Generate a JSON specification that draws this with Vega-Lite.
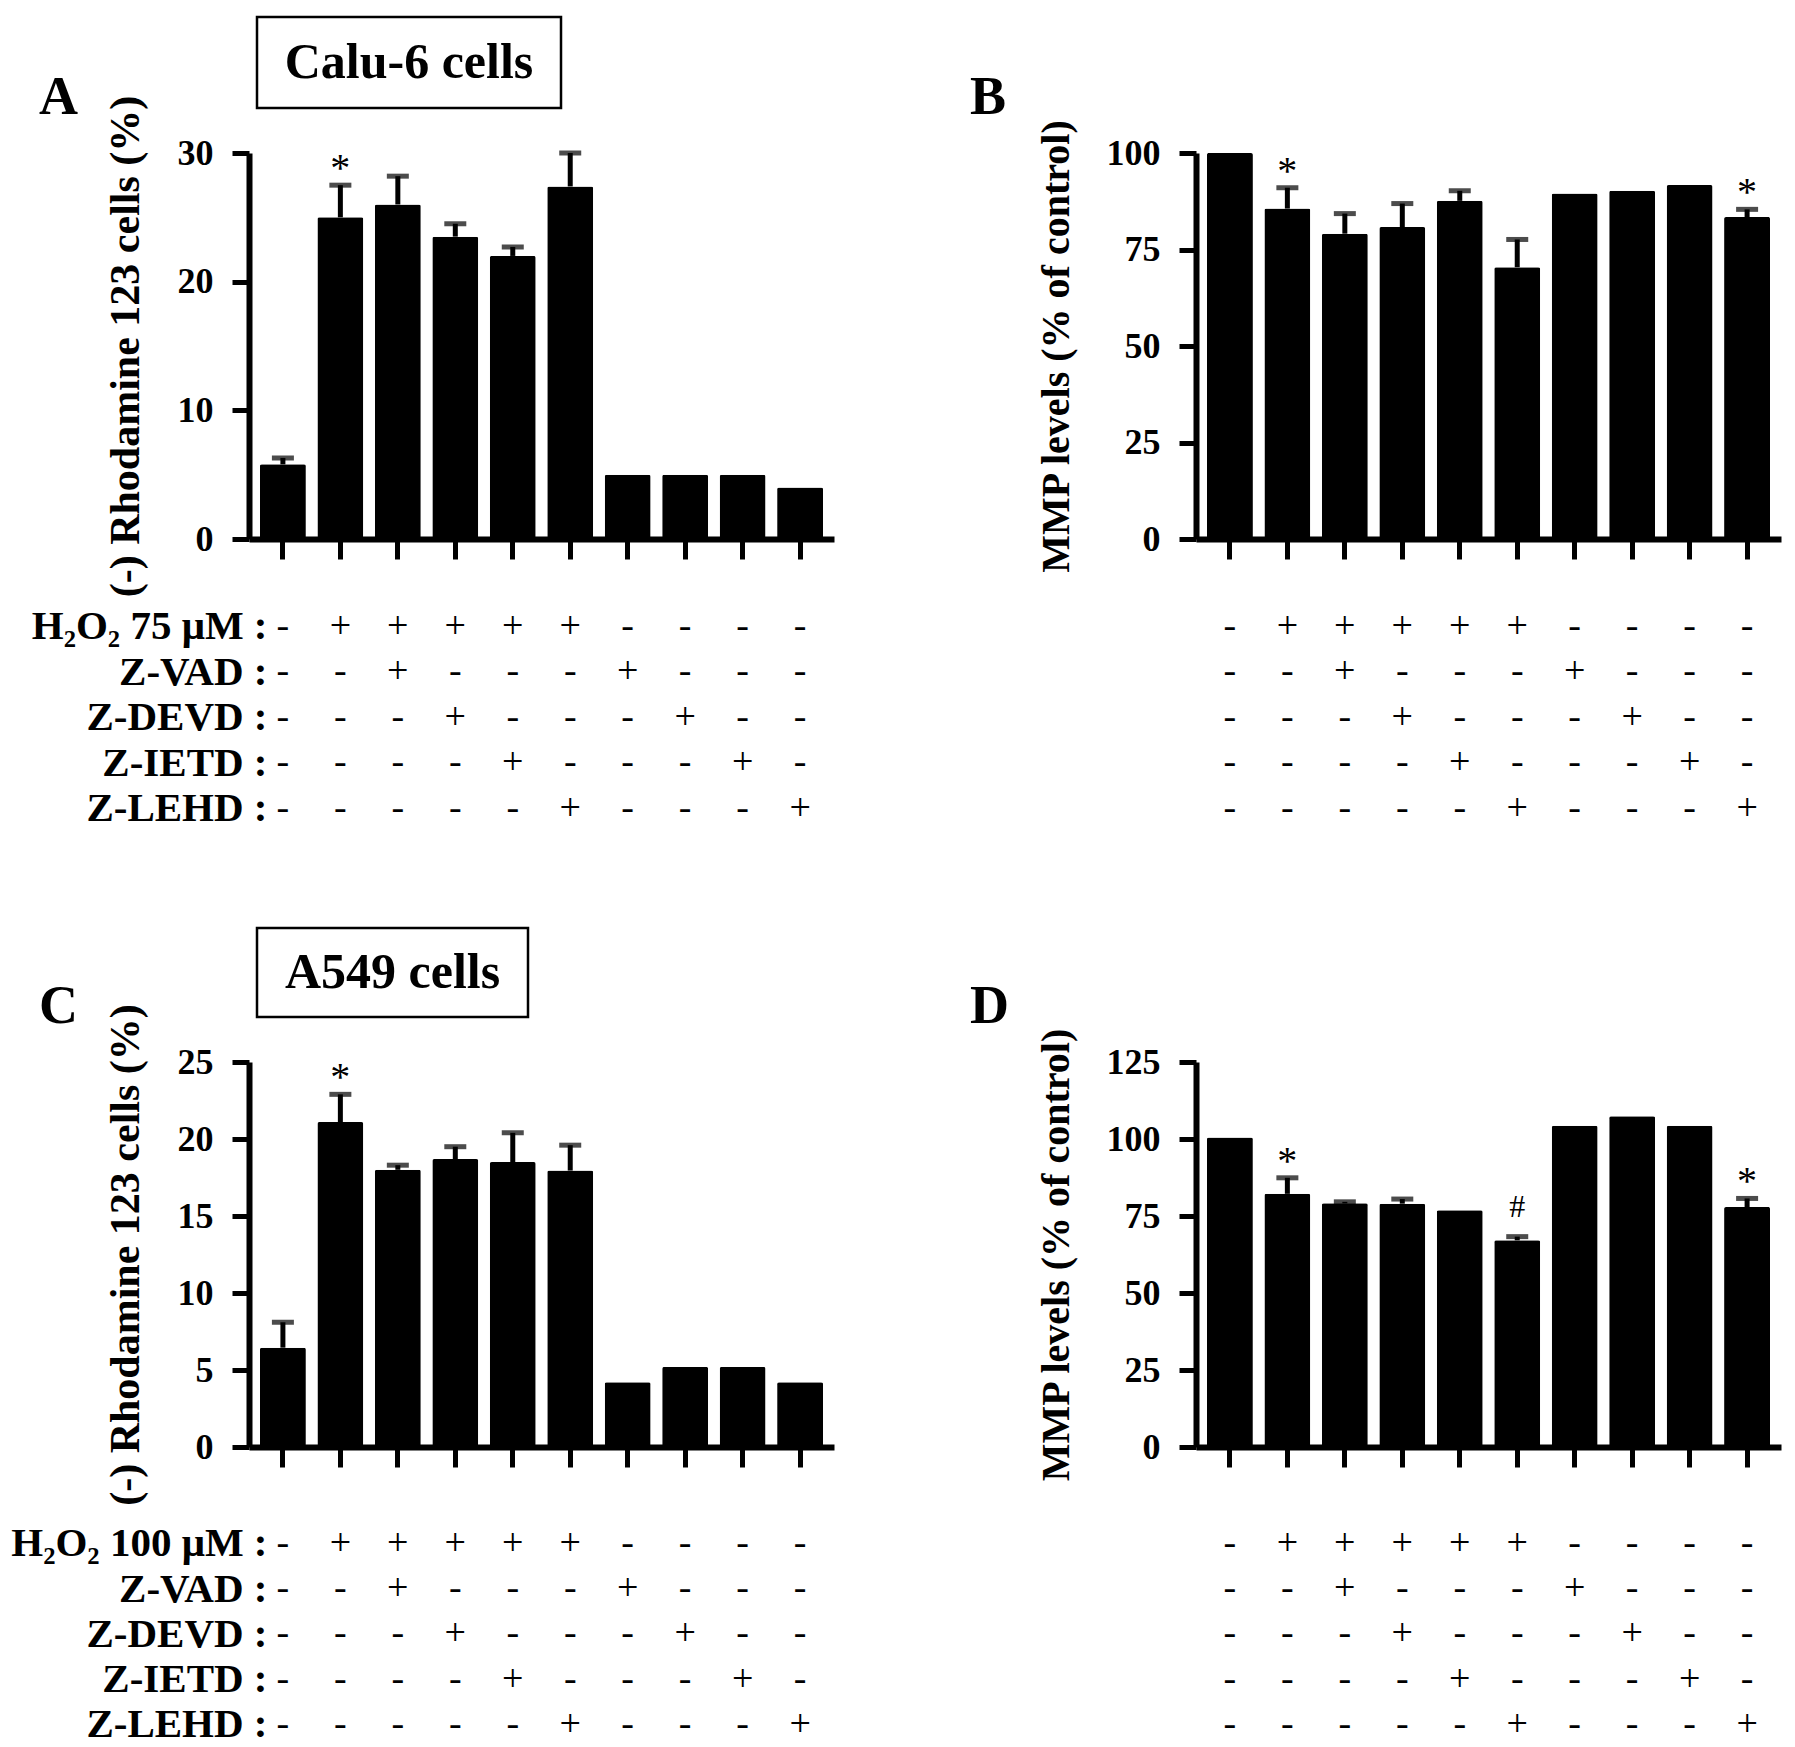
{
  "$schema": "https://vega.github.io/schema/vega-lite/v6.json",
  "background": "white",
  "padding": {"left": 10, "top": 15, "right": 5, "bottom": 5},
  "config": {
    "font": "Liberation Serif",
    "view": {"stroke": null},
    "axis": {"domainColor": "black", "domainWidth": 6, "tickColor": "black", "tickWidth": 5, "labelColor": "black", "titleColor": "black", "labelFontSize": 36, "labelFontWeight": "bold", "titleFontSize": 40, "titleFontWeight": "bold", "grid": false, "labelFlush": false},
    "axisY": {"tickSize": 17, "labelPadding": 19, "titlePadding": 30},
    "axisX": {"tickSize": 20, "labels": false, "title": null, "bandPosition": 0.5},
    "title": {"fontSize": 54, "fontWeight": "bold", "color": "black", "anchor": "start", "frame": "group", "orient": "bottom", "baseline": "alphabetic", "offset": -37}
  },
  "datasets": {
    "A": [
      {"g": 1, "m": 5.8, "hi": 6.3, "sig": null, "h": "-", "vad": "-", "devd": "-", "ietd": "-", "lehd": "-"},
      {"g": 2, "m": 25.0, "hi": 27.5, "sig": "*", "h": "+", "vad": "-", "devd": "-", "ietd": "-", "lehd": "-"},
      {"g": 3, "m": 26.0, "hi": 28.2, "sig": null, "h": "+", "vad": "+", "devd": "-", "ietd": "-", "lehd": "-"},
      {"g": 4, "m": 23.5, "hi": 24.5, "sig": null, "h": "+", "vad": "-", "devd": "+", "ietd": "-", "lehd": "-"},
      {"g": 5, "m": 22.0, "hi": 22.7, "sig": null, "h": "+", "vad": "-", "devd": "-", "ietd": "+", "lehd": "-"},
      {"g": 6, "m": 27.4, "hi": 30.0, "sig": null, "h": "+", "vad": "-", "devd": "-", "ietd": "-", "lehd": "+"},
      {"g": 7, "m": 5.0, "hi": null, "sig": null, "h": "-", "vad": "+", "devd": "-", "ietd": "-", "lehd": "-"},
      {"g": 8, "m": 5.0, "hi": null, "sig": null, "h": "-", "vad": "-", "devd": "+", "ietd": "-", "lehd": "-"},
      {"g": 9, "m": 5.0, "hi": null, "sig": null, "h": "-", "vad": "-", "devd": "-", "ietd": "+", "lehd": "-"},
      {"g": 10, "m": 4.0, "hi": null, "sig": null, "h": "-", "vad": "-", "devd": "-", "ietd": "-", "lehd": "+"}
    ],
    "B": [
      {"g": 1, "m": 100, "hi": null, "sig": null, "h": "-", "vad": "-", "devd": "-", "ietd": "-", "lehd": "-"},
      {"g": 2, "m": 85.6, "hi": 91.0, "sig": "*", "h": "+", "vad": "-", "devd": "-", "ietd": "-", "lehd": "-"},
      {"g": 3, "m": 79.1, "hi": 84.3, "sig": null, "h": "+", "vad": "+", "devd": "-", "ietd": "-", "lehd": "-"},
      {"g": 4, "m": 80.8, "hi": 86.9, "sig": null, "h": "+", "vad": "-", "devd": "+", "ietd": "-", "lehd": "-"},
      {"g": 5, "m": 87.6, "hi": 90.2, "sig": null, "h": "+", "vad": "-", "devd": "-", "ietd": "+", "lehd": "-"},
      {"g": 6, "m": 70.4, "hi": 77.6, "sig": null, "h": "+", "vad": "-", "devd": "-", "ietd": "-", "lehd": "+"},
      {"g": 7, "m": 89.5, "hi": null, "sig": null, "h": "-", "vad": "+", "devd": "-", "ietd": "-", "lehd": "-"},
      {"g": 8, "m": 90.2, "hi": null, "sig": null, "h": "-", "vad": "-", "devd": "+", "ietd": "-", "lehd": "-"},
      {"g": 9, "m": 91.7, "hi": null, "sig": null, "h": "-", "vad": "-", "devd": "-", "ietd": "+", "lehd": "-"},
      {"g": 10, "m": 83.4, "hi": 85.4, "sig": "*", "h": "-", "vad": "-", "devd": "-", "ietd": "-", "lehd": "+"}
    ],
    "C": [
      {"g": 1, "m": 6.45, "hi": 8.1, "sig": null, "h": "-", "vad": "-", "devd": "-", "ietd": "-", "lehd": "-"},
      {"g": 2, "m": 21.1, "hi": 22.9, "sig": "*", "h": "+", "vad": "-", "devd": "-", "ietd": "-", "lehd": "-"},
      {"g": 3, "m": 18.0, "hi": 18.3, "sig": null, "h": "+", "vad": "+", "devd": "-", "ietd": "-", "lehd": "-"},
      {"g": 4, "m": 18.7, "hi": 19.5, "sig": null, "h": "+", "vad": "-", "devd": "+", "ietd": "-", "lehd": "-"},
      {"g": 5, "m": 18.5, "hi": 20.4, "sig": null, "h": "+", "vad": "-", "devd": "-", "ietd": "+", "lehd": "-"},
      {"g": 6, "m": 17.95, "hi": 19.6, "sig": null, "h": "+", "vad": "-", "devd": "-", "ietd": "-", "lehd": "+"},
      {"g": 7, "m": 4.2, "hi": null, "sig": null, "h": "-", "vad": "+", "devd": "-", "ietd": "-", "lehd": "-"},
      {"g": 8, "m": 5.2, "hi": null, "sig": null, "h": "-", "vad": "-", "devd": "+", "ietd": "-", "lehd": "-"},
      {"g": 9, "m": 5.2, "hi": null, "sig": null, "h": "-", "vad": "-", "devd": "-", "ietd": "+", "lehd": "-"},
      {"g": 10, "m": 4.2, "hi": null, "sig": null, "h": "-", "vad": "-", "devd": "-", "ietd": "-", "lehd": "+"}
    ],
    "D": [
      {"g": 1, "m": 100.5, "hi": null, "sig": null, "h": "-", "vad": "-", "devd": "-", "ietd": "-", "lehd": "-"},
      {"g": 2, "m": 82.2, "hi": 87.4, "sig": "*", "h": "+", "vad": "-", "devd": "-", "ietd": "-", "lehd": "-"},
      {"g": 3, "m": 79.1, "hi": 79.6, "sig": null, "h": "+", "vad": "+", "devd": "-", "ietd": "-", "lehd": "-"},
      {"g": 4, "m": 79.0, "hi": 80.5, "sig": null, "h": "+", "vad": "-", "devd": "+", "ietd": "-", "lehd": "-"},
      {"g": 5, "m": 76.9, "hi": null, "sig": null, "h": "+", "vad": "-", "devd": "-", "ietd": "+", "lehd": "-"},
      {"g": 6, "m": 67.1, "hi": 68.3, "sig": "#", "h": "+", "vad": "-", "devd": "-", "ietd": "-", "lehd": "+"},
      {"g": 7, "m": 104.3, "hi": null, "sig": null, "h": "-", "vad": "+", "devd": "-", "ietd": "-", "lehd": "-"},
      {"g": 8, "m": 107.4, "hi": null, "sig": null, "h": "-", "vad": "-", "devd": "+", "ietd": "-", "lehd": "-"},
      {"g": 9, "m": 104.3, "hi": null, "sig": null, "h": "-", "vad": "-", "devd": "-", "ietd": "+", "lehd": "-"},
      {"g": 10, "m": 77.9, "hi": 80.7, "sig": "*", "h": "-", "vad": "-", "devd": "-", "ietd": "-", "lehd": "+"}
    ],
    "boxA": [{"t": "Calu-6 cells"}],
    "boxC": [{"t": "A549 cells"}]
  },
  "columns": 2,
  "spacing": {"row": 45, "column": 362},
  "bounds": "flush",
  "align": "each",
  "concat": [
    {
      "hconcat": [
        {"data": {"values": []}, "width": 1, "height": 91, "mark": "text"},
        {
          "data": {"name": "boxA"},
          "width": 304, "height": 91,
          "view": {"stroke": "black", "strokeWidth": 2.5},
          "title": {"text": "A", "dx": -218},
          "mark": {"type": "text", "fontSize": 50, "fontWeight": "bold", "color": "black"},
          "encoding": {"text": {"field": "t"}}
        }
      ],
      "spacing": 7,
      "bounds": "flush"
    },
    {
      "data": {"values": []},
      "width": 585, "height": 91,
      "title": {"text": "B", "dx": -226},
      "mark": "text"
    },
    {
      "data": {"name": "A"},
      "width": 585, "height": 386,
      "encoding": {"x": {"field": "g", "type": "ordinal", "scale": {"type": "band", "domain": [1,2,3,4,5,6,7,8,9,10], "paddingInner": 0.2, "paddingOuter": 0.19}}},
      "layer": [
        {"mark": {"type": "bar", "color": "black", "cornerRadius": 2},
         "encoding": {"y": {"field": "m", "type": "quantitative", "scale": {"domain": [0, 30], "nice": false}, "axis": {"values": [0, 10, 20, 30], "title": "(-) Rhodamine 123 cells (%)", "titleFontSize": 42}}}},
        {"transform": [{"filter": "datum.hi != null"}], "mark": {"type": "rule", "color": "black", "strokeWidth": 5},
         "encoding": {"y": {"field": "m", "type": "quantitative", "axis": {"values": [0, 10, 20, 30], "title": "(-) Rhodamine 123 cells (%)", "titleFontSize": 42}}, "y2": {"field": "hi"}}},
        {"transform": [{"filter": "datum.hi != null"}], "mark": {"type": "tick", "color": "black", "thickness": 5, "size": 22},
         "encoding": {"y": {"field": "hi", "type": "quantitative", "axis": {"values": [0, 10, 20, 30], "title": "(-) Rhodamine 123 cells (%)", "titleFontSize": 42}}}},
        {"transform": [{"filter": "datum.sig == '*'"}], "mark": {"type": "text", "fontSize": 40, "baseline": "alphabetic", "dy": -4, "color": "black"},
         "encoding": {"y": {"field": "hi", "type": "quantitative", "axis": {"values": [0, 10, 20, 30], "title": "(-) Rhodamine 123 cells (%)", "titleFontSize": 42}}, "text": {"field": "sig"}}}
      ]
    },
    {
      "data": {"name": "B"},
      "width": 585, "height": 386,
      "encoding": {"x": {"field": "g", "type": "ordinal", "scale": {"type": "band", "domain": [1,2,3,4,5,6,7,8,9,10], "paddingInner": 0.2, "paddingOuter": 0.19}}},
      "layer": [
        {"mark": {"type": "bar", "color": "black", "cornerRadius": 2},
         "encoding": {"y": {"field": "m", "type": "quantitative", "scale": {"domain": [0, 100], "nice": false}, "axis": {"values": [0, 25, 50, 75, 100], "title": "MMP levels (% of control)"}}}},
        {"transform": [{"filter": "datum.hi != null"}], "mark": {"type": "rule", "color": "black", "strokeWidth": 5},
         "encoding": {"y": {"field": "m", "type": "quantitative", "axis": {"values": [0, 25, 50, 75, 100], "title": "MMP levels (% of control)"}}, "y2": {"field": "hi"}}},
        {"transform": [{"filter": "datum.hi != null"}], "mark": {"type": "tick", "color": "black", "thickness": 5, "size": 22},
         "encoding": {"y": {"field": "hi", "type": "quantitative", "axis": {"values": [0, 25, 50, 75, 100], "title": "MMP levels (% of control)"}}}},
        {"transform": [{"filter": "datum.sig == '*'"}], "mark": {"type": "text", "fontSize": 40, "baseline": "alphabetic", "dy": -4, "color": "black"},
         "encoding": {"y": {"field": "hi", "type": "quantitative", "axis": {"values": [0, 25, 50, 75, 100], "title": "MMP levels (% of control)"}}, "text": {"field": "sig"}}}
      ]
    },
    {
      "data": {"name": "A"},
      "transform": [{"fold": ["h", "vad", "devd", "ietd", "lehd"], "as": ["row", "sym"]}],
      "width": 585, "height": 299,
      "mark": {"type": "text", "fontSize": 38, "color": "black"},
      "encoding": {
        "x": {"field": "g", "type": "ordinal", "scale": {"type": "band", "domain": [1,2,3,4,5,6,7,8,9,10], "paddingInner": 0.2, "paddingOuter": 0.19}, "axis": null},
        "y": {"field": "row", "type": "nominal", "scale": {"type": "point", "domain": ["h", "vad", "devd", "ietd", "lehd", "pad"], "padding": 0.786, "align": 0.601},
              "axis": {"title": null, "domain": false, "ticks": false, "tickSize": 0, "labelPadding": -18, "labelFontSize": 41, "labelAlign": "right", "labelBaseline": "middle", "labelLimit": 600,
                       "labelExpr": "datum.value == 'h' ? 'H₂O₂ 75 μM :' : datum.value == 'vad' ? 'Z-VAD :' : datum.value == 'devd' ? 'Z-DEVD :' : datum.value == 'ietd' ? 'Z-IETD :' : datum.value == 'lehd' ? 'Z-LEHD :' : ''"}},
        "text": {"field": "sym"}
      }
    },
    {
      "data": {"name": "B"},
      "transform": [{"fold": ["h", "vad", "devd", "ietd", "lehd"], "as": ["row", "sym"]}],
      "width": 585, "height": 299,
      "mark": {"type": "text", "fontSize": 38, "color": "black"},
      "encoding": {
        "x": {"field": "g", "type": "ordinal", "scale": {"type": "band", "domain": [1,2,3,4,5,6,7,8,9,10], "paddingInner": 0.2, "paddingOuter": 0.19}, "axis": null},
        "y": {"field": "row", "type": "nominal", "scale": {"type": "point", "domain": ["h", "vad", "devd", "ietd", "lehd", "pad"], "padding": 0.786, "align": 0.601}, "axis": null},
        "text": {"field": "sym"}
      }
    },
    {
      "hconcat": [
        {"data": {"values": []}, "width": 1, "height": 89, "mark": "text"},
        {
          "data": {"name": "boxC"},
          "width": 271, "height": 89,
          "view": {"stroke": "black", "strokeWidth": 2.5},
          "title": {"text": "C", "dx": -218},
          "mark": {"type": "text", "fontSize": 50, "fontWeight": "bold", "color": "black"},
          "encoding": {"text": {"field": "t"}}
        }
      ],
      "spacing": 7,
      "bounds": "flush"
    },
    {
      "data": {"values": []},
      "width": 585, "height": 89,
      "title": {"text": "D", "dx": -226},
      "mark": "text"
    },
    {
      "data": {"name": "C"},
      "width": 585, "height": 385,
      "encoding": {"x": {"field": "g", "type": "ordinal", "scale": {"type": "band", "domain": [1,2,3,4,5,6,7,8,9,10], "paddingInner": 0.2, "paddingOuter": 0.19}}},
      "layer": [
        {"mark": {"type": "bar", "color": "black", "cornerRadius": 2},
         "encoding": {"y": {"field": "m", "type": "quantitative", "scale": {"domain": [0, 25], "nice": false}, "axis": {"values": [0, 5, 10, 15, 20, 25], "title": "(-) Rhodamine 123 cells (%)", "titleFontSize": 42}}}},
        {"transform": [{"filter": "datum.hi != null"}], "mark": {"type": "rule", "color": "black", "strokeWidth": 5},
         "encoding": {"y": {"field": "m", "type": "quantitative", "axis": {"values": [0, 5, 10, 15, 20, 25], "title": "(-) Rhodamine 123 cells (%)", "titleFontSize": 42}}, "y2": {"field": "hi"}}},
        {"transform": [{"filter": "datum.hi != null"}], "mark": {"type": "tick", "color": "black", "thickness": 5, "size": 22},
         "encoding": {"y": {"field": "hi", "type": "quantitative", "axis": {"values": [0, 5, 10, 15, 20, 25], "title": "(-) Rhodamine 123 cells (%)", "titleFontSize": 42}}}},
        {"transform": [{"filter": "datum.sig == '*'"}], "mark": {"type": "text", "fontSize": 40, "baseline": "alphabetic", "dy": -4, "color": "black"},
         "encoding": {"y": {"field": "hi", "type": "quantitative", "axis": {"values": [0, 5, 10, 15, 20, 25], "title": "(-) Rhodamine 123 cells (%)", "titleFontSize": 42}}, "text": {"field": "sig"}}}
      ]
    },
    {
      "data": {"name": "D"},
      "width": 585, "height": 385,
      "encoding": {"x": {"field": "g", "type": "ordinal", "scale": {"type": "band", "domain": [1,2,3,4,5,6,7,8,9,10], "paddingInner": 0.2, "paddingOuter": 0.19}}},
      "layer": [
        {"mark": {"type": "bar", "color": "black", "cornerRadius": 2},
         "encoding": {"y": {"field": "m", "type": "quantitative", "scale": {"domain": [0, 125], "nice": false}, "axis": {"values": [0, 25, 50, 75, 100, 125], "title": "MMP levels (% of control)"}}}},
        {"transform": [{"filter": "datum.hi != null"}], "mark": {"type": "rule", "color": "black", "strokeWidth": 5},
         "encoding": {"y": {"field": "m", "type": "quantitative", "axis": {"values": [0, 25, 50, 75, 100, 125], "title": "MMP levels (% of control)"}}, "y2": {"field": "hi"}}},
        {"transform": [{"filter": "datum.hi != null"}], "mark": {"type": "tick", "color": "black", "thickness": 5, "size": 22},
         "encoding": {"y": {"field": "hi", "type": "quantitative", "axis": {"values": [0, 25, 50, 75, 100, 125], "title": "MMP levels (% of control)"}}}},
        {"transform": [{"filter": "datum.sig == '*'"}], "mark": {"type": "text", "fontSize": 40, "baseline": "alphabetic", "dy": -4, "color": "black"},
         "encoding": {"y": {"field": "hi", "type": "quantitative", "axis": {"values": [0, 25, 50, 75, 100, 125], "title": "MMP levels (% of control)"}}, "text": {"field": "sig"}}},
        {"transform": [{"filter": "datum.sig == '#'"}], "mark": {"type": "text", "fontSize": 32, "baseline": "alphabetic", "dy": -20, "color": "black"},
         "encoding": {"y": {"field": "hi", "type": "quantitative", "axis": {"values": [0, 25, 50, 75, 100, 125], "title": "MMP levels (% of control)"}}, "text": {"field": "sig"}}}
      ]
    },
    {
      "data": {"name": "C"},
      "transform": [{"fold": ["h", "vad", "devd", "ietd", "lehd"], "as": ["row", "sym"]}],
      "width": 585, "height": 258,
      "mark": {"type": "text", "fontSize": 38, "color": "black"},
      "encoding": {
        "x": {"field": "g", "type": "ordinal", "scale": {"type": "band", "domain": [1,2,3,4,5,6,7,8,9,10], "paddingInner": 0.2, "paddingOuter": 0.19}, "axis": null},
        "y": {"field": "row", "type": "nominal", "scale": {"type": "point", "domain": ["h", "vad", "devd", "ietd", "lehd"], "padding": 0.851, "align": 0.675},
              "axis": {"title": null, "domain": false, "ticks": false, "tickSize": 0, "labelPadding": -18, "labelFontSize": 41, "labelAlign": "right", "labelBaseline": "middle", "labelLimit": 600,
                       "labelExpr": "datum.value == 'h' ? 'H₂O₂ 100 μM :' : datum.value == 'vad' ? 'Z-VAD :' : datum.value == 'devd' ? 'Z-DEVD :' : datum.value == 'ietd' ? 'Z-IETD :' : 'Z-LEHD :'"}},
        "text": {"field": "sym"}
      }
    },
    {
      "data": {"name": "D"},
      "transform": [{"fold": ["h", "vad", "devd", "ietd", "lehd"], "as": ["row", "sym"]}],
      "width": 585, "height": 258,
      "mark": {"type": "text", "fontSize": 38, "color": "black"},
      "encoding": {
        "x": {"field": "g", "type": "ordinal", "scale": {"type": "band", "domain": [1,2,3,4,5,6,7,8,9,10], "paddingInner": 0.2, "paddingOuter": 0.19}, "axis": null},
        "y": {"field": "row", "type": "nominal", "scale": {"type": "point", "domain": ["h", "vad", "devd", "ietd", "lehd"], "padding": 0.851, "align": 0.675}, "axis": null},
        "text": {"field": "sym"}
      }
    }
  ]
}
